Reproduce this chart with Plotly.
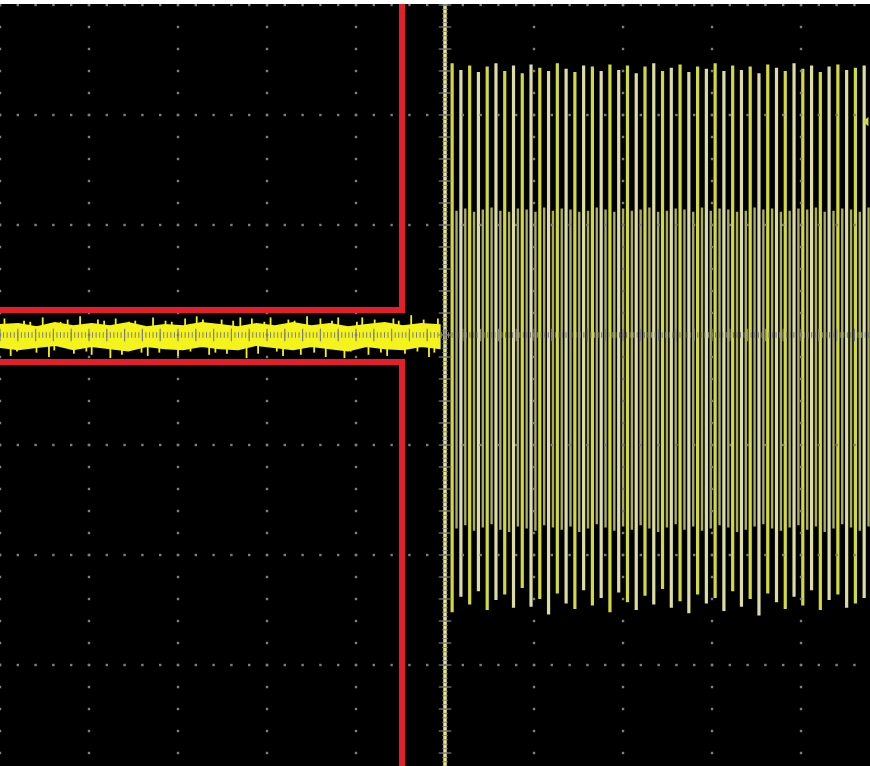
import numpy as np
import plotly.graph_objects as go

# ---- screen geometry (in divisions) ----
X_RANGE = [0.0, 9.775]
Y_RANGE = [-3.918, 3.009]
CENTER_T = 5.0

# ---- quiet line before the burst ----
# envelope of the noise band, sampled evenly from t=0 to the end of the quiet part
noise_hi = [0.09, 0.10, 0.07, 0.11, 0.08, 0.10, 0.08, 0.11, 0.07, 0.09, 0.08, 0.11, 0.09,
            0.07, 0.10, 0.08, 0.11, 0.08, 0.10, 0.07, 0.09, 0.11, 0.08, 0.10, 0.09]
noise_lo = [-0.11, -0.13, -0.11, -0.09, -0.13, -0.10, -0.12, -0.14, -0.10, -0.12, -0.13, -0.10, -0.12,
            -0.13, -0.09, -0.11, -0.13, -0.10, -0.12, -0.14, -0.10, -0.12, -0.13, -0.10, -0.12]
noise_end = 4.94
# glitches riding on the quiet line: time (div) and excursion (div)
spike_t = [0.05, 0.12, 0.19, 0.27, 0.34, 0.41, 0.48, 0.55, 0.61, 0.68, 0.76, 0.83,
           0.90, 0.97, 1.03, 1.10, 1.17, 1.24, 1.30, 1.37, 1.45, 1.52, 1.59, 1.66,
           1.72, 1.79, 1.86, 1.93, 2.00, 2.08, 2.14, 2.21, 2.28, 2.35, 2.42, 2.49,
           2.55, 2.62, 2.70, 2.77, 2.83, 2.90, 2.97, 3.04, 3.11, 3.18, 3.24, 3.31,
           3.38, 3.45, 3.53, 3.60, 3.66, 3.73, 3.80, 3.87, 3.94, 4.01, 4.07, 4.14,
           4.21, 4.28, 4.35, 4.42, 4.48, 4.55, 4.62, 4.69, 4.76, 4.82, 4.88, 4.92]
spike_v = [0.15, -0.19, -0.15, 0.13, 0.12, -0.16, 0.16, -0.20, -0.14, 0.12, 0.14, -0.17,
           0.17, -0.15, -0.18, 0.14, 0.13, -0.21, 0.15, -0.18, 0.12, 0.13, -0.16, -0.19,
           0.16, -0.16, 0.13, 0.12, -0.20, 0.15, -0.15, 0.17, 0.14, -0.18, -0.16, 0.14,
           -0.17, 0.13, 0.16, -0.21, 0.15, -0.17, 0.12, 0.16, -0.15, -0.19, 0.14, 0.13,
           -0.18, 0.17, -0.16, 0.15, -0.20, 0.13, 0.16, -0.21, -0.15, 0.12, 0.16, -0.18,
           0.14, -0.16, -0.19, 0.15, 0.13, -0.17, 0.18, -0.15, 0.14, -0.20, -0.16, 0.15]

# ---- burst ----
burst_t0 = 5.08
burst_period = 0.0985
# positive / negative peaks of each cycle (div)
burst_hi = [2.47, 2.41, 2.45, 2.39, 2.44, 2.47, 2.40, 2.45,
            2.38, 2.46, 2.43, 2.40, 2.47, 2.42, 2.39, 2.45,
            2.44, 2.40, 2.46, 2.41, 2.45, 2.38, 2.44, 2.47,
            2.40, 2.43, 2.46, 2.39, 2.44, 2.42, 2.47, 2.40,
            2.45, 2.41, 2.44, 2.38, 2.46, 2.43, 2.40, 2.47,
            2.42, 2.45, 2.39, 2.44, 2.46, 2.41, 2.43, 2.45]
burst_lo = [-2.52, -2.38, -2.45, -2.33, -2.50, -2.41, -2.36, -2.48,
            -2.30, -2.47, -2.40, -2.54, -2.35, -2.44, -2.49, -2.32,
            -2.46, -2.39, -2.52, -2.34, -2.43, -2.50, -2.37, -2.45,
            -2.31, -2.48, -2.42, -2.53, -2.36, -2.44, -2.39, -2.51,
            -2.33, -2.47, -2.40, -2.55, -2.35, -2.43, -2.49, -2.38,
            -2.46, -2.32, -2.50, -2.41, -2.36, -2.48, -2.44, -2.39]
# the smaller half-cycles between the peaks
inner_hi = [1.13, 1.15, 1.12, 1.14, 1.16, 1.13, 1.12, 1.15,
            1.14, 1.12, 1.16, 1.13, 1.15, 1.14, 1.12, 1.13,
            1.16, 1.14, 1.12, 1.15, 1.13, 1.14, 1.16, 1.12,
            1.13, 1.15, 1.14, 1.12, 1.16, 1.13, 1.15, 1.14,
            1.12, 1.13, 1.16, 1.14, 1.15, 1.12, 1.13, 1.15,
            1.14, 1.16, 1.12, 1.13, 1.15, 1.14, 1.12, 1.16]
inner_lo = [-1.76, -1.73, -1.78, -1.75, -1.72, -1.77, -1.79, -1.74,
            -1.76, -1.78, -1.73, -1.75, -1.77, -1.74, -1.79, -1.76,
            -1.72, -1.75, -1.78, -1.74, -1.77, -1.73, -1.76, -1.79,
            -1.75, -1.72, -1.77, -1.74, -1.78, -1.76, -1.73, -1.75,
            -1.79, -1.77, -1.74, -1.72, -1.76, -1.78, -1.75, -1.73,
            -1.77, -1.74, -1.79, -1.76, -1.72, -1.75, -1.78, -1.74]

# trigger level indicator on the right edge
trigger_level = 1.94

# ---- highlighted window (red bracket lines) ----
window_end = 4.517
window_top = 0.227
window_bottom = -0.245

TRACE = "#f4f41c"
GRID = "#7e7e7e"
RED = "#e3202a"


def segments(xs, y0s, y1s):
    """Vertical strokes joined into one trace with gaps."""
    px, py = [], []
    for x, a, b in zip(xs, y0s, y1s):
        px += [x, x, None]
        py += [a, b, None]
    return px, py


fig = go.Figure()

# noise band
nt = np.linspace(0.0, noise_end, len(noise_hi))
band_x = list(nt) + list(nt[::-1])
band_y = list(noise_hi) + list(noise_lo[::-1])
fig.add_trace(go.Scatter(x=band_x, y=band_y, fill="toself", fillcolor=TRACE,
                         mode="lines", line=dict(color=TRACE, width=2),
                         hoverinfo="skip"))
sx, sy = segments(spike_t, [-0.01] * len(spike_t), spike_v)
fig.add_trace(go.Scatter(x=sx, y=sy, mode="lines", line=dict(color=TRACE, width=1.8),
                         hoverinfo="skip"))

# burst
bt = burst_t0 + burst_period * np.arange(len(burst_hi))
it = bt + burst_period / 2
ix, iy = segments(it, inner_hi, inner_lo)
fig.add_trace(go.Scatter(x=ix, y=iy, mode="lines", line=dict(color="#a8aa62", width=2.4),
                         hoverinfo="skip"))
for parity, col in ((0, "#d2d840"), (1, "#dcdca4")):
    sel = slice(parity, None, 2)
    tx, ty = segments(bt[sel], burst_hi[sel], burst_lo[sel])
    fig.add_trace(go.Scatter(x=tx, y=ty, mode="lines", line=dict(color=col, width=3.2),
                             hoverinfo="skip"))

# the edge where the burst starts runs off screen both ways
fig.add_trace(go.Scatter(x=[CENTER_T, CENTER_T], y=[Y_RANGE[1] + 1, Y_RANGE[0] - 1],
                         mode="lines", line=dict(color="#e8e88a", width=3.5),
                         hoverinfo="skip"))

# graticule dots
gx, gy = [], []
minor_y = np.arange(-3.8, 3.01, 0.2)
minor_x = np.arange(0.0, 9.81, 0.2)
for c in range(0, 10):
    if c == 5:
        continue
    gx += [c] * len(minor_y)
    gy += list(minor_y)
for r in range(-3, 4):
    if r == 0:
        continue
    gx += list(minor_x)
    gy += [r] * len(minor_x)
fig.add_trace(go.Scatter(x=gx, y=gy, mode="markers",
                         marker=dict(color=GRID, size=2.4, symbol="square"),
                         hoverinfo="skip"))

# centre axes with tick marks
fine_y = np.arange(-3.92, 3.01, 0.04)
fine_x = np.arange(0.0, 9.81, 0.04)
fig.add_trace(go.Scatter(x=[CENTER_T] * len(fine_y), y=fine_y, mode="markers",
                         marker=dict(symbol="line-ew", size=4, line=dict(color=GRID, width=1)),
                         hoverinfo="skip"))
fig.add_trace(go.Scatter(x=[CENTER_T] * len(minor_y), y=minor_y, mode="markers",
                         marker=dict(symbol="line-ew", size=9, line=dict(color=GRID, width=1.2)),
                         hoverinfo="skip"))
fig.add_trace(go.Scatter(x=fine_x, y=[0] * len(fine_x), mode="markers",
                         marker=dict(symbol="line-ns", size=4, line=dict(color=GRID, width=1)),
                         hoverinfo="skip"))
fig.add_trace(go.Scatter(x=minor_x, y=[0] * len(minor_x), mode="markers",
                         marker=dict(symbol="line-ns", size=9, line=dict(color=GRID, width=1.2)),
                         hoverinfo="skip"))

# trigger level marker
fig.add_trace(go.Scatter(x=[X_RANGE[1] - 0.04], y=[trigger_level], mode="markers",
                         marker=dict(symbol="triangle-left", size=8, color="#d4d83c"),
                         hoverinfo="skip"))

# red bracket around the quiet window
x_left = X_RANGE[0] - 0.2
fig.add_shape(type="path", xref="x", yref="y",
              path=f"M {x_left},{window_top} L {window_end},{window_top} L {window_end},{Y_RANGE[1] + 0.3}",
              line=dict(color=RED, width=6))
fig.add_shape(type="path", xref="x", yref="y",
              path=f"M {x_left},{window_bottom} L {window_end},{window_bottom} L {window_end},{Y_RANGE[0] - 0.3}",
              line=dict(color=RED, width=6))

fig.update_layout(
    width=870, height=766,
    margin=dict(l=0, r=0, t=4, b=0),
    paper_bgcolor="white",
    plot_bgcolor="black",
    showlegend=False,
    xaxis=dict(range=X_RANGE, showgrid=False, zeroline=False, showticklabels=False,
               ticks="", fixedrange=True),
    yaxis=dict(range=Y_RANGE, showgrid=False, zeroline=False, showticklabels=False,
               ticks="", fixedrange=True),
)

fig.write_html("out.html")
